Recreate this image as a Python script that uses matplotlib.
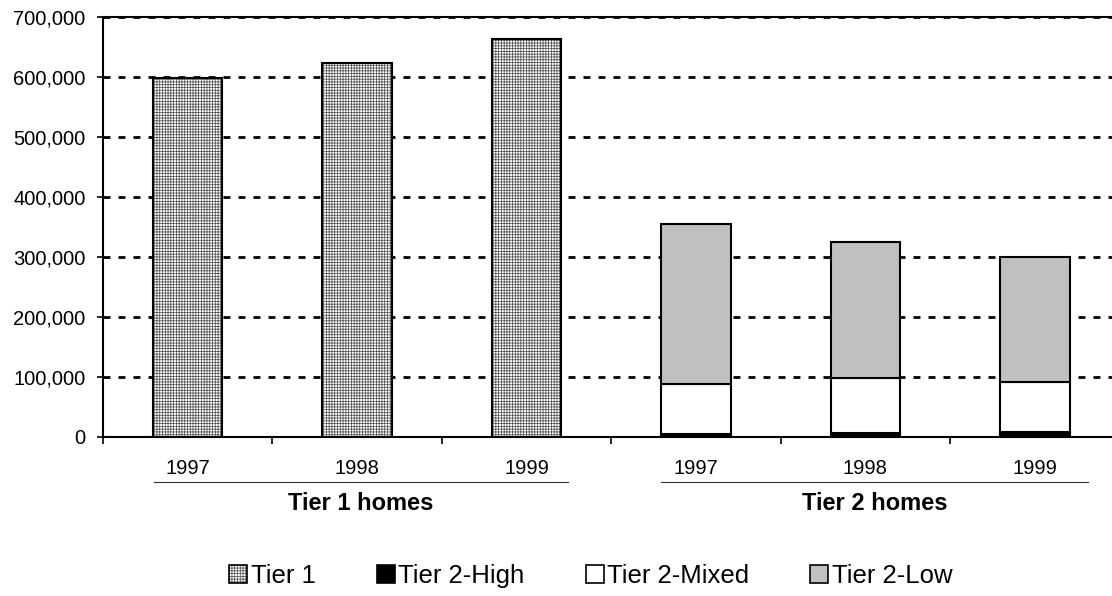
import matplotlib
matplotlib.use("Agg")
import matplotlib.pyplot as plt
from matplotlib.patches import Patch
from matplotlib.legend_handler import HandlerTuple
from matplotlib.transforms import blended_transform_factory
from matplotlib.ticker import FuncFormatter, MultipleLocator

plt.rcParams['font.family'] = ['Liberation Sans', 'DejaVu Sans']
plt.rcParams['hatch.linewidth'] = 0.55

# ---- data ----
years = ["1997", "1998", "1999", "1997", "1998", "1999"]
groups = ["Tier 1 homes", "Tier 2 homes"]
tier1 = [598000, 624000, 663000, 0, 0, 0]
tier2_high = [0, 0, 0, 5000, 7000, 9000]
tier2_mixed = [0, 0, 0, 83000, 91000, 83000]
tier2_low = [0, 0, 0, 267000, 227000, 208000]
series_names = ["Tier 1", "Tier 2-High", "Tier 2-Mixed", "Tier 2-Low"]

fig = plt.figure(figsize=(11.12, 5.96), dpi=100)
ax = fig.add_axes([103/1112, 1-437/596, (1119.5-103)/1112, 420/596])

x = list(range(len(years)))
w = 0.41
edge_lw = 1.5

# Tier 1 (hatched, drawn only for first three categories)
t1x = [i for i in x if tier1[i] > 0]
t1v = [tier1[i] for i in t1x]
hb = ax.bar(t1x, t1v, w, color='white', edgecolor='#555555', hatch='++++++',
            linewidth=0, zorder=3)
ob = ax.bar(t1x, t1v, w, color='none', edgecolor='black', linewidth=edge_lw, zorder=4)

t2x = [i for i in x if tier2_low[i] > 0]
hi = [tier2_high[i] for i in t2x]
mx = [tier2_mixed[i] for i in t2x]
lo = [tier2_low[i] for i in t2x]
b_hi = ax.bar(t2x, hi, w, color='black', edgecolor='black', linewidth=edge_lw, zorder=3)
b_mx = ax.bar(t2x, mx, w, bottom=hi, color='white', edgecolor='black',
              linewidth=edge_lw, zorder=3)
bot2 = [a + b for a, b in zip(hi, mx)]
b_lo = ax.bar(t2x, lo, w, bottom=bot2, color='#c0c0c0', edgecolor='black',
              linewidth=edge_lw, zorder=3)

ax.set_xlim(-0.5, 5.5)
ax.set_ylim(0, 700000)
ax.yaxis.set_major_locator(MultipleLocator(100000))
ax.yaxis.set_major_formatter(FuncFormatter(lambda v, p: f"{int(v):,}"))
ax.set_xticks([i - 0.5 for i in range(len(years) + 1)])
ax.set_xticklabels([])

ax.grid(axis='y', color='black', linewidth=2.0, linestyle=(0, (2.5, 2.9)), zorder=1)
ax.set_axisbelow(True)

for s in ['left', 'bottom', 'top', 'right']:
    ax.spines[s].set_linewidth(1.5)
    ax.spines[s].set_color('black')

ax.tick_params(axis='y', direction='out', length=4.5, width=1.2, pad=8, labelsize=14.5)
ax.tick_params(axis='x', direction='out', length=5, width=1.2)

tr = blended_transform_factory(ax.transData, fig.transFigure)
for i, yl in enumerate(years):
    ax.text(i, 1-468/596, yl, transform=tr, ha='center', va='center', fontsize=14.5)

# group underlines and labels
under = [(-0.199, 2.245), (2.794, 5.315)]
for (a, b), g in zip(under, groups):
    ax.plot([a, b], [1-482/596]*2, transform=tr, color='#333333', linewidth=0.8,
            clip_on=False)
    ax.text((a+b)/2, 1-504/596, g, transform=tr, ha='center', va='center',
            fontsize=17, fontweight='bold')

# legend
h_t1 = (Patch(facecolor='white', edgecolor='#555555', hatch='++++++', linewidth=0),
        Patch(facecolor='none', edgecolor='black', linewidth=1.2))
h_hi = Patch(facecolor='black', edgecolor='black', linewidth=1.2)
h_mx = Patch(facecolor='white', edgecolor='black', linewidth=1.2)
h_lo = Patch(facecolor='#c0c0c0', edgecolor='black', linewidth=1.2)
fig.legend([h_t1, h_hi, h_mx, h_lo], series_names, loc='center',
           bbox_to_anchor=(591/1112, 1-576/596), ncol=4, frameon=False,
           fontsize=18.5, handlelength=0.7, handleheight=0.7, handletextpad=0.15,
           columnspacing=2.37, handler_map={tuple: HandlerTuple(ndivide=1, pad=0)})

fig.savefig("out.png", dpi=100)
